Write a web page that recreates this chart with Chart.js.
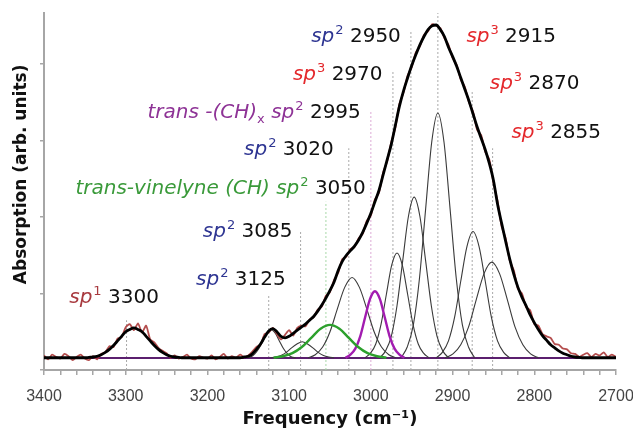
<!DOCTYPE html>
<html>
<head>
<meta charset="utf-8">
<script src="https://cdn.jsdelivr.net/npm/chart.js@4.4.0/dist/chart.umd.min.js"></script>
<style>
  html, body { margin: 0; padding: 0; background: #fff; }
</style>
</head>
<body>
<canvas id="irChart" width="633" height="432"></canvas>
<script>
const freq = [
  3400, 3395, 3390, 3385, 3380, 3375, 3370, 3365, 3360, 3355,
  3350, 3345, 3340, 3335, 3330, 3325, 3320, 3315, 3310, 3305,
  3300, 3295, 3290, 3285, 3280, 3275, 3270, 3265, 3260, 3255,
  3250, 3245, 3240, 3235, 3230, 3225, 3220, 3215, 3210, 3205,
  3200, 3195, 3190, 3185, 3180, 3175, 3170, 3165, 3160, 3155,
  3150, 3145, 3140, 3135, 3130, 3125, 3120, 3115, 3110, 3105,
  3100, 3095, 3090, 3085, 3080, 3075, 3070, 3065, 3060, 3055,
  3050, 3045, 3040, 3035, 3030, 3025, 3020, 3015, 3010, 3005,
  3000, 2995, 2990, 2985, 2980, 2975, 2970, 2965, 2960, 2955,
  2950, 2945, 2940, 2935, 2930, 2925, 2920, 2915, 2910, 2905,
  2900, 2895, 2890, 2885, 2880, 2875, 2870, 2865, 2860, 2855,
  2850, 2845, 2840, 2835, 2830, 2825, 2820, 2815, 2810, 2805,
  2800, 2795, 2790, 2785, 2780, 2775, 2770, 2765, 2760, 2755,
  2750, 2745, 2740, 2735, 2730, 2725, 2720, 2715, 2710, 2705,
  2700
];

// Fitted envelope (thick black line)
const envelope = [
  0.16, 0.16, 0.16, 0.16, 0.16, 0.16, 0.16, 0.16, 0.16, 0.16,
  0.16, 0.165, 0.17, 0.18, 0.20, 0.23, 0.27, 0.32, 0.38, 0.44,
  0.50, 0.53, 0.55, 0.53, 0.50, 0.44, 0.38, 0.32, 0.27, 0.23,
  0.20, 0.18, 0.17, 0.165, 0.16, 0.16, 0.16, 0.16, 0.16, 0.16,
  0.16, 0.16, 0.16, 0.16, 0.16, 0.16, 0.16, 0.16, 0.16, 0.17,
  0.18, 0.21, 0.27, 0.34, 0.43, 0.51, 0.54, 0.50, 0.44, 0.42,
  0.44, 0.48, 0.52, 0.56, 0.60, 0.65, 0.70, 0.77, 0.85, 0.94,
  1.04, 1.15, 1.30, 1.42, 1.50, 1.56, 1.62, 1.70, 1.80, 1.92,
  2.05, 2.20, 2.35, 2.55, 2.75, 2.95, 3.20, 3.45, 3.65, 3.82,
  3.98, 4.12, 4.25, 4.36, 4.45, 4.50, 4.51, 4.45, 4.36, 4.22,
  4.10, 3.97, 3.82, 3.67, 3.52, 3.35, 3.18, 3.03, 2.88, 2.70,
  2.48, 2.17, 1.92, 1.68, 1.45, 1.25, 1.08, 0.95, 0.84, 0.72,
  0.62, 0.53, 0.45, 0.39, 0.33, 0.29, 0.25, 0.22, 0.20, 0.18,
  0.17, 0.165, 0.16, 0.16, 0.16, 0.16, 0.16, 0.16, 0.16, 0.16,
  0.16
];

// Measured spectrum (noisy red trace)
const measured = [
  0.19, 0.14, 0.20, 0.17, 0.15, 0.21, 0.18, 0.13, 0.17, 0.20,
  0.15, 0.13, 0.18, 0.14, 0.21, 0.23, 0.31, 0.30, 0.41, 0.43,
  0.56, 0.60, 0.52, 0.61, 0.49, 0.58, 0.40, 0.36, 0.29, 0.25,
  0.22, 0.16, 0.19, 0.15, 0.17, 0.20, 0.15, 0.14, 0.18, 0.16,
  0.15, 0.19, 0.14, 0.17, 0.21, 0.15, 0.18, 0.16, 0.20, 0.17,
  0.19, 0.24, 0.30, 0.33, 0.47, 0.49, 0.55, 0.47, 0.40, 0.46,
  0.52, 0.45, 0.55, 0.58, 0.57, 0.66, 0.69, 0.79, 0.83, 0.97,
  1.02, 1.18, 1.27, 1.45, 1.48, 1.58, 1.61, 1.72, 1.78, 1.95,
  2.02, 2.23, 2.32, 2.58, 2.73, 2.98, 3.17, 3.48, 3.63, 3.85,
  3.96, 4.15, 4.23, 4.38, 4.43, 4.52, 4.50, 4.47, 4.34, 4.25,
  4.08, 3.99, 3.80, 3.70, 3.50, 3.38, 3.14, 3.07, 2.85, 2.75,
  2.45, 2.21, 1.88, 1.72, 1.43, 1.30, 1.06, 1.00, 0.82, 0.78,
  0.60, 0.58, 0.47, 0.44, 0.42, 0.34, 0.33, 0.28, 0.27, 0.22,
  0.21, 0.17, 0.20, 0.22, 0.17, 0.21, 0.19, 0.23, 0.17, 0.20,
  0.17
];

const baselineLevel = 0.157;

// Fit components (frequency / absorption pairs)
const c3125f = [3152, 3147, 3142, 3137, 3132, 3127, 3122, 3117, 3112, 3107, 3102, 3097, 3092];
const c3125a = [0.16, 0.17, 0.21, 0.28, 0.38, 0.48, 0.53, 0.48, 0.38, 0.28, 0.21, 0.17, 0.16];
const c3085f = [3123, 3116.5, 3110, 3103.5, 3097, 3090.5, 3084, 3077.5, 3071, 3064.5, 3058, 3051.5, 3045];
const c3085a = [0.16, 0.17, 0.19, 0.23, 0.29, 0.34, 0.37, 0.34, 0.29, 0.23, 0.19, 0.17, 0.16];
const g3050f = [3119, 3107.5, 3096, 3084.5, 3073, 3061.5, 3050, 3038.5, 3027, 3015.5, 3004, 2992.5, 2981];
const g3050a = [0.16, 0.18, 0.22, 0.30, 0.42, 0.54, 0.59, 0.54, 0.42, 0.30, 0.22, 0.18, 0.16];
const c3020f = [3077, 3068, 3059, 3050, 3041, 3032, 3023, 3014, 3005, 2996, 2987, 2978, 2969];
const c3020a = [0.16, 0.20, 0.30, 0.50, 0.80, 1.08, 1.21, 1.08, 0.80, 0.50, 0.30, 0.20, 0.16];
const p2995f = [3031, 3025, 3019, 3013, 3007, 3001, 2995, 2989, 2983, 2977, 2971, 2965, 2959];
const p2995a = [0.16, 0.20, 0.28, 0.44, 0.69, 0.93, 1.03, 0.93, 0.69, 0.44, 0.28, 0.20, 0.16];
const c2970f = [3007, 3000.5, 2994, 2987.5, 2981, 2974.5, 2968, 2961.5, 2955, 2948.5, 2942, 2935.5, 2929];
const c2970a = [0.16, 0.22, 0.34, 0.60, 0.99, 1.37, 1.53, 1.37, 0.99, 0.60, 0.34, 0.22, 0.16];
const c2950f = [2989, 2982, 2975, 2968, 2961, 2954, 2947, 2940, 2933, 2926, 2919, 2912, 2905];
const c2950a = [0.16, 0.25, 0.44, 0.84, 1.43, 2.01, 2.26, 2.01, 1.43, 0.84, 0.44, 0.25, 0.16];
const c2915f = [2963, 2955.5, 2948, 2940.5, 2933, 2925.5, 2918, 2910.5, 2903, 2895.5, 2888, 2880.5, 2873];
const c2915a = [0.16, 0.30, 0.59, 1.20, 2.10, 2.98, 3.36, 2.98, 2.10, 1.20, 0.59, 0.30, 0.16];
const c2870f = [2920, 2912.5, 2905, 2897.5, 2890, 2882.5, 2875, 2867.5, 2860, 2852.5, 2845, 2837.5, 2830];
const c2870a = [0.16, 0.23, 0.38, 0.69, 1.16, 1.61, 1.81, 1.61, 1.16, 0.69, 0.38, 0.23, 0.16];
const c2855f = [2909, 2899.5, 2890, 2880.5, 2871, 2861.5, 2852, 2842.5, 2833, 2823.5, 2814, 2804.5, 2795];
const c2855a = [0.16, 0.21, 0.33, 0.56, 0.92, 1.26, 1.41, 1.26, 0.92, 0.56, 0.33, 0.21, 0.16];

// Dotted marker lines: position and height
const markFreq = [3299, 3125, 3086, 3055, 3027, 3000, 2973, 2951, 2918, 2876, 2851];
const markTop = [0.65, 0.99, 1.83, 2.2, 2.9, 3.4, 3.92, 4.42, 4.67, 3.66, 2.9];

// Peak labels: number and colour group
const labelNums = ['3300', '3125', '3085', '3050', '3020', '2995', '2970', '2950', '2915', '2870', '2855'];
const labelKinds = ['sp1', 'sp2', 'sp2', 'vin', 'sp2', 'trans', 'sp3', 'sp2', 'sp3', 'sp3', 'sp3'];
// right end (frequency) and baseline (absorption) of each label
const labelEndF = [3259.4, 3104.2, 3095.9, 3006.2, 3045.4, 3012.3, 2985.7, 2963.3, 2773.4, 2744.8, 2718.3];
const labelBaseA = [0.876, 1.11, 1.735, 2.30, 2.81, 3.29, 3.79, 4.29, 4.29, 3.68, 3.03];

const colors = {
  sp1: '#a83a3f', sp2: '#2e3592', sp3: '#e4282c', vin: '#3a9a3a', trans: '#8e3396', ink: '#111'
};

function pts(fs, vs) {
  return fs.map((f, i) => ({ x: f, y: vs[i] }));
}

function thin(fs, vs) {
  return { data: pts(fs, vs), borderColor: '#3a3a3a', borderWidth: 1.1, pointRadius: 0, cubicInterpolationMode: 'monotone' };
}

const markColor = f => f === 3055 ? '#a8d9a8' : (f === 3000 ? '#dcaad6' : '#a9a9a9');

const datasets = [
  { data: pts(freq, envelope), borderColor: '#000', borderWidth: 2.8, pointRadius: 0, cubicInterpolationMode: 'monotone' },
  { data: pts(freq, measured), borderColor: 'rgba(172,58,58,0.9)', borderWidth: 1.8, pointRadius: 0, tension: 0.2 },
  { data: pts(g3050f, g3050a), borderColor: '#2ca02c', borderWidth: 2.4, pointRadius: 0, cubicInterpolationMode: 'monotone' },
  { data: pts(p2995f, p2995a), borderColor: '#a21cb0', borderWidth: 2.4, pointRadius: 0, cubicInterpolationMode: 'monotone' },
  thin(c3125f, c3125a),
  thin(c3085f, c3085a),
  thin(c3020f, c3020a),
  thin(c2970f, c2970a),
  thin(c2950f, c2950a),
  thin(c2915f, c2915a),
  thin(c2870f, c2870a),
  thin(c2855f, c2855a),
  { data: [{ x: 3400, y: baselineLevel }, { x: 2700, y: baselineLevel }], borderColor: '#5b1f6e', borderWidth: 2, pointRadius: 0 }
];

markFreq.forEach((f, i) => {
  datasets.push({
    data: [{ x: f, y: 0 }, { x: f, y: markTop[i] }],
    borderColor: markColor(f), borderWidth: 1, borderDash: [2, 2], pointRadius: 0
  });
});

// Label parts: text, colour, style
function labelParts(kind, num) {
  const c = colors[kind];
  if (kind === 'vin') return [['trans-vinelyne (CH) sp', c, 'it'], ['2', c, 'sup'], [' ' + num, colors.ink, '']];
  if (kind === 'trans') return [['trans -(CH)', c, 'it'], ['x', c, 'sub'], [' sp', c, 'it'], ['2', c, 'sup'], [' ' + num, colors.ink, '']];
  const p = kind === 'sp1' ? '1' : (kind === 'sp2' ? '2' : '3');
  return [['sp', c, 'it'], [p, c, 'sup'], [' ' + num, colors.ink, '']];
}

function partFont(style) {
  if (style === 'sup' || style === 'sub') return '13px "DejaVu Sans"';
  if (style === 'it') return 'italic 20px "DejaVu Sans"';
  return '20px "DejaVu Sans"';
}

const peakLabels = {
  id: 'peakLabels',
  afterDatasetsDraw(chart) {
    const { ctx, scales: { x, y }, chartArea } = chart;
    ctx.save();
    ctx.textBaseline = 'alphabetic';
    ctx.textAlign = 'left';
    labelNums.forEach((num, i) => {
      const parts = labelParts(labelKinds[i], num);
      let total = 0;
      parts.forEach(p => { ctx.font = partFont(p[2]); total += ctx.measureText(p[0]).width + (p[2] === 'sup' ? 1 : 0); });
      let px = x.getPixelForValue(labelEndF[i]) - total;
      const py = y.getPixelForValue(labelBaseA[i]);
      parts.forEach(p => {
        ctx.font = partFont(p[2]);
        ctx.fillStyle = p[1];
        const dy = p[2] === 'sup' ? -8 : (p[2] === 'sub' ? 5 : 0);
        if (p[2] === 'sup') px += 1;
        ctx.fillText(p[0], px, py + dy);
        px += ctx.measureText(p[0]).width;
      });
    });
    // y axis title
    ctx.translate(22, chartArea.top + (chartArea.bottom - chartArea.top) * 0.452);
    ctx.rotate(-Math.PI / 2);
    ctx.font = 'bold 17px "DejaVu Sans"';
    ctx.fillStyle = '#111';
    ctx.textAlign = 'center';
    ctx.textBaseline = 'middle';
    ctx.fillText('Absorption (arb. units)', 0, 0);
    ctx.restore();
  }
};

new Chart(document.getElementById('irChart'), {
  type: 'line',
  data: { datasets },
  options: {
    responsive: false,
    animation: false,
    layout: { padding: { top: 13, right: 0, bottom: 0, left: 0 } },
    plugins: { legend: { display: false }, tooltip: { enabled: false } },
    scales: {
      x: {
        type: 'linear',
        reverse: true,
        min: 2700,
        max: 3400,
        afterFit: s => { s.height = 62; s.paddingLeft = 0; s.paddingRight = 17; },
        border: { color: '#a6a6a6', width: 2 },
        grid: { drawOnChartArea: false, tickLength: 5, color: '#a6a6a6', lineWidth: 1.5 },
        ticks: {
          stepSize: 20,
          maxTicksLimit: 60,
          autoSkip: false,
          maxRotation: 0,
          padding: 12,
          color: '#444',
          font: { family: 'Liberation Sans', size: 16 },
          callback: v => (Math.round(v) % 100 === 0 ? String(Math.round(v)) : '')
        },
        title: {
          display: true,
          text: 'Frequency (cm⁻¹)',
          color: '#111',
          font: { family: 'DejaVu Sans', size: 18, weight: 'bold' },
          padding: { top: 0, bottom: 2 }
        }
      },
      y: {
        min: 0,
        max: 4.667,
        afterFit: s => { s.width = 44; },
        border: { color: '#a6a6a6', width: 2 },
        grid: { drawOnChartArea: false, tickLength: 4, color: '#a6a6a6', lineWidth: 1.5 },
        ticks: { display: false, stepSize: 1, includeBounds: false }
      }
    }
  },
  plugins: [peakLabels]
});
</script>
</body>
</html>
